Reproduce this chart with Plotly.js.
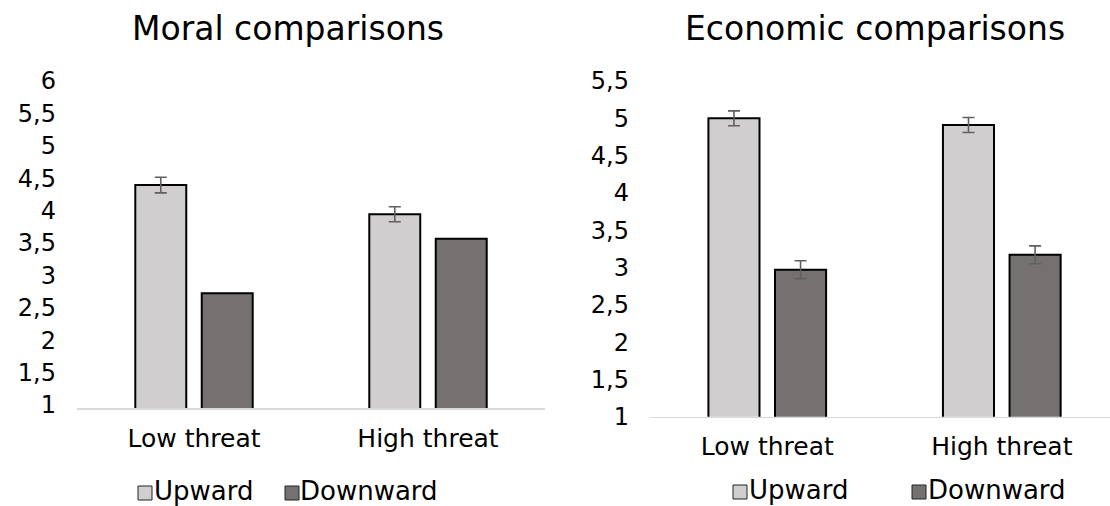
<!DOCTYPE html>
<html>
<head>
<meta charset="utf-8">
<script src="https://cdn.plot.ly/plotly-3.0.1.min.js"></script>
<style>
  html, body { margin: 0; padding: 0; background: #fff; }
  #chart { width: 1110px; height: 506px; }
</style>
</head>
<body>
<div id="chart"></div>
<script>
// Mean ratings by threat condition, with standard errors
const categories = ['Low threat', 'High threat'];
const seriesNames = ['Upward', 'Downward'];
const chartTitles = ['Moral comparisons', 'Economic comparisons'];

const moralUpward = [4.44, 3.99];
const moralUpwardErr = [0.12, 0.115];
const moralDownward = [2.77, 3.61];

const economicUpward = [5.00, 4.91];
const economicUpwardErr = [0.10, 0.10];
const economicDownward = [2.97, 3.17];
const economicDownwardErr = [0.12, 0.12];

const moralTicks = [1, 1.5, 2, 2.5, 3, 3.5, 4, 4.5, 5, 5.5, 6];
const economicTicks = [1, 1.5, 2, 2.5, 3, 3.5, 4, 4.5, 5, 5.5];

// Page geometry helpers (pixel -> paper fraction)
const W = 1110, H = 506;
const px = x => x / W;
const py = y => 1 - y / H;

const FONT = 'DejaVu Sans';
const upFill = '#d0cecf';
const downFill = '#757171';
const errColor = '#606060';

function barTrace(name, values, fill, err, xa, ya) {
  const t = {
    type: 'bar',
    name: name,
    x: categories,
    y: values,
    xaxis: xa,
    yaxis: ya,
    marker: { color: fill, line: { color: '#000000', width: 2 } },
    showlegend: false,
    hoverinfo: 'x+y'
  };
  if (err) {
    t.error_y = { type: 'data', array: err, visible: true, color: errColor, thickness: 1.6, width: 6 };
  }
  return t;
}

const data = [
  barTrace(seriesNames[0], moralUpward, upFill, moralUpwardErr, 'x', 'y'),
  barTrace(seriesNames[1], moralDownward, downFill, null, 'x', 'y'),
  barTrace(seriesNames[0], economicUpward, upFill, economicUpwardErr, 'x2', 'y2'),
  barTrace(seriesNames[1], economicDownward, downFill, economicDownwardErr, 'x2', 'y2')
];

const xCommon = {
  type: 'category',
  showline: true,
  linecolor: '#d9d9d9',
  linewidth: 1.5,
  layer: 'above traces',
  showgrid: false,
  zeroline: false,
  ticks: '',
  ticklabelstandoff: 7,
  tickfont: { family: FONT, size: 25, color: '#000' },
  fixedrange: true
};
const yCommon = {
  showline: false,
  showgrid: false,
  zeroline: false,
  ticks: '',
  ticklabelstandoff: 20,
  tickfont: { family: FONT, size: 24, color: '#000' },
  fixedrange: true
};

// Hand-built legends: swatch squares + labels under each chart
const legendItems = [
  { sq: 138, text: 151.5, y: 493, fill: upFill, label: seriesNames[0] },
  { sq: 285, text: 298.5, y: 493, fill: downFill, label: seriesNames[1] },
  { sq: 733, text: 746.5, y: 492, fill: upFill, label: seriesNames[0] },
  { sq: 912, text: 925.5, y: 492, fill: downFill, label: seriesNames[1] }
];
const shapes = legendItems.map(it => ({
  type: 'rect', xref: 'paper', yref: 'paper',
  x0: px(it.sq), x1: px(it.sq + 14), y0: py(it.y + 7), y1: py(it.y - 7),
  fillcolor: it.fill, line: { color: '#222', width: 1 }
}));
const annotations = legendItems.map(it => ({
  xref: 'paper', yref: 'paper', x: px(it.text), y: py(it.y - 2),
  xanchor: 'left', yanchor: 'middle', showarrow: false,
  text: it.label, font: { family: FONT, size: 26, color: '#000' }
}));
annotations.push(
  { xref: 'paper', yref: 'paper', x: px(287.5), y: py(28), xanchor: 'center', yanchor: 'middle',
    showarrow: false, text: chartTitles[0], font: { family: FONT, size: 33, color: '#000' } },
  { xref: 'paper', yref: 'paper', x: px(875), y: py(28), xanchor: 'center', yanchor: 'middle',
    showarrow: false, text: chartTitles[1], font: { family: FONT, size: 33, color: '#000' } }
);

const layout = {
  width: W,
  height: H,
  autosize: false,
  margin: { l: 0, r: 0, t: 0, b: 0, pad: 0 },
  paper_bgcolor: '#ffffff',
  plot_bgcolor: '#ffffff',
  separators: ', ',
  barmode: 'group',
  bargap: 0.432,
  bargroupgap: 0.233,
  showlegend: false,
  font: { family: FONT, color: '#000' },
  xaxis: Object.assign({}, xCommon, { domain: [px(77), px(545)], anchor: 'y', range: [-0.5, 1.5] }),
  yaxis: Object.assign({}, yCommon, { domain: [py(408), py(84)], anchor: 'x', range: [1, 6],
    tickvals: moralTicks, ticklabelshift: -3 }),
  xaxis2: Object.assign({}, xCommon, { domain: [px(650), 1], anchor: 'y2', range: [-0.5, 1.4614] }),
  yaxis2: Object.assign({}, yCommon, { domain: [py(416.7), py(81)], anchor: 'x2', range: [1, 5.5],
    tickvals: economicTicks }),
  shapes: shapes,
  annotations: annotations
};

Plotly.newPlot('chart', data, layout, { displayModeBar: false, staticPlot: true });
</script>
</body>
</html>
